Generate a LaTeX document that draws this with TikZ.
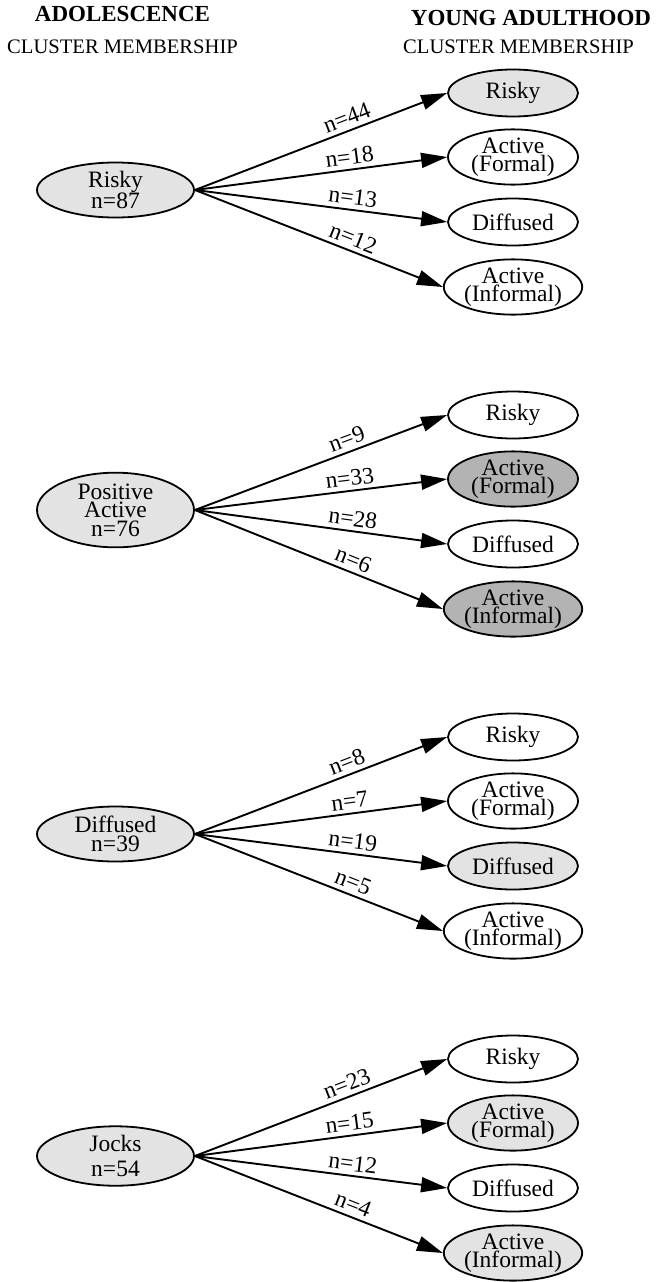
\documentclass[tikz,border=0pt]{standalone}
\usepackage{fontspec}
\setmainfont{Liberation Serif}
\usetikzlibrary{shapes.geometric,arrows.meta}
\definecolor{lightg}{HTML}{E3E3E3}
\definecolor{darkg}{HTML}{B3B3B3}
\newcommand{\nodefnt}{\fontsize{23.5}{18.5}\selectfont}
\newcommand{\labfnt}{\fontsize{23.5}{23}\selectfont}
\begin{document}
\begin{tikzpicture}[x=1pt,y=-1pt,
  lft/.style={ellipse, draw, line width=1.8pt, fill=lightg, minimum width=157pt, minimum height=55pt, inner sep=0pt, align=center, font=\nodefnt},
  rgt/.style={ellipse, draw, line width=1.8pt, fill=white, minimum width=130pt, minimum height=47pt, inner sep=0pt, align=center, font=\nodefnt},
  lt/.style={fill=lightg},
  dk/.style={fill=darkg},
  conn/.style={line width=1.9pt, -{Triangle[length=26pt,width=15pt]}},
  lab/.style={sloped, above=3pt, pos=0.62, font=\labfnt, inner sep=1pt},
  hbold/.style={font=\bfseries\fontsize{23}{27}\selectfont, anchor=base, inner sep=0pt},
  hreg/.style={font=\fontsize{20.6}{25}\selectfont, anchor=base, inner sep=0pt}
]
\useasboundingbox (0,0) rectangle (659,1282);

% headers
\node[hbold] (h1) at (122.5,21) {ADOLESCENCE};
\node[hreg] (h2) at (122.5,53) {CLUSTER MEMBERSHIP};
\node[hbold] (h3) at (531,25) {YOUNG ADULTHOOD};
\node[hreg] (h4) at (518.5,53) {CLUSTER MEMBERSHIP};

% group 1
\node[lft] (L1) at (115.5,190) {Risky\\n=87};
\node[rgt,lt] (A1) at (513,93) {Risky};
\node[rgt] (B1) at (513,157) {Active\\(Formal)};
\node[rgt] (C1) at (513,222) {Diffused};
\node[rgt] (D1) at (513,287) {Active\\(Informal)};
\draw[conn] (L1.east) -- node[lab] {n=44} (A1.west);
\draw[conn] (L1.east) -- node[lab] {n=18} (B1.west);
\draw[conn] (L1.east) -- node[lab] {n=13} (C1.west);
\draw[conn] (L1.east) -- node[lab] {n=12} (D1.west);

% group 2
\node[lft] (L2) at (115.5,510) {Positive\\Active\\n=76};
\node[rgt] (A2) at (513,415) {Risky};
\node[rgt,dk] (B2) at (513,479) {Active\\(Formal)};
\node[rgt] (C2) at (513,544) {Diffused};
\node[rgt,dk] (D2) at (513,609) {Active\\(Informal)};
\draw[conn] (L2.east) -- node[lab] {n=9} (A2.west);
\draw[conn] (L2.east) -- node[lab] {n=33} (B2.west);
\draw[conn] (L2.east) -- node[lab] {n=28} (C2.west);
\draw[conn] (L2.east) -- node[lab] {n=6} (D2.west);

% group 3
\node[lft] (L3) at (115.5,834) {Diffused\\n=39};
\node[rgt] (A3) at (513,737) {Risky};
\node[rgt] (B3) at (513,801) {Active\\(Formal)};
\node[rgt,lt] (C3) at (513,866) {Diffused};
\node[rgt] (D3) at (513,931) {Active\\(Informal)};
\draw[conn] (L3.east) -- node[lab] {n=8} (A3.west);
\draw[conn] (L3.east) -- node[lab] {n=7} (B3.west);
\draw[conn] (L3.east) -- node[lab] {n=19} (C3.west);
\draw[conn] (L3.east) -- node[lab] {n=5} (D3.west);

% group 4
\node[lft] (L4) at (115.5,1156) {Jocks\\[7pt]n=54};
\node[rgt] (A4) at (513,1059) {Risky};
\node[rgt,lt] (B4) at (513,1123) {Active\\(Formal)};
\node[rgt] (C4) at (513,1188) {Diffused};
\node[rgt,lt] (D4) at (513,1253) {Active\\(Informal)};
\draw[conn] (L4.east) -- node[lab] {n=23} (A4.west);
\draw[conn] (L4.east) -- node[lab] {n=15} (B4.west);
\draw[conn] (L4.east) -- node[lab] {n=12} (C4.west);
\draw[conn] (L4.east) -- node[lab] {n=4} (D4.west);
\end{tikzpicture}
\end{document}
